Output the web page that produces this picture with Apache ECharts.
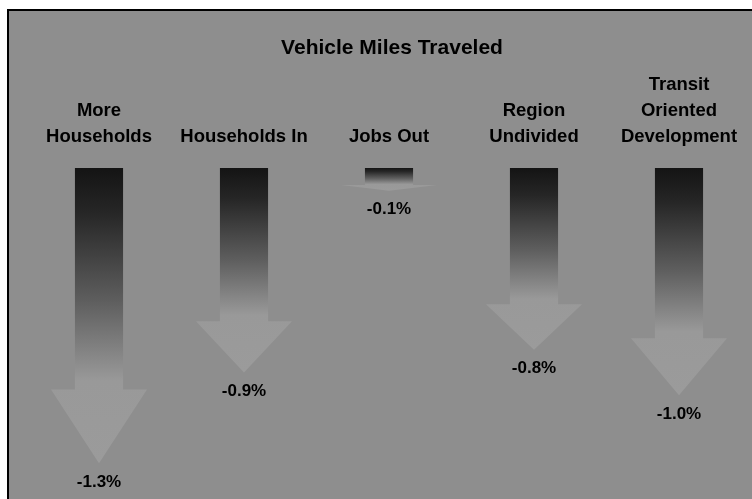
<!DOCTYPE html>
<html>
<head>
<meta charset="utf-8">
<script src="https://cdn.jsdelivr.net/npm/echarts@6/dist/echarts.min.js"></script>
<style>
html,body{margin:0;padding:0;background:#fff;}
#chart{width:752px;height:499px;}
</style>
</head>
<body>
<div id="chart"></div>
<script>
const titleText = 'Vehicle Miles Traveled';
const categories = ['More\nHouseholds', 'Households In', 'Jobs Out', 'Region\nUndivided', 'Transit\nOriented\nDevelopment'];
const values = [-1.3, -0.9, -0.1, -0.8, -1.0];

const chart = echarts.init(document.getElementById('chart'), null, {renderer: 'canvas'});
const FONT = '"Liberation Sans", Arial, sans-serif';
const BG = '#8e8e8e';

function renderArrow(params, api) {
  const x = api.value(0);
  const v = api.value(1);
  const top = api.coord([x, 0]);
  const tip = api.coord([x, v]);
  const band = api.size([1, 0])[0];
  const cx = top[0];
  const sw = band * 0.166;
  const hw = band * 0.331;
  const len = tip[1] - top[1];
  const hs = tip[1] - len * 0.25;
  return {
    type: 'group',
    children: [
      {
        type: 'polygon',
        shape: {points: [[cx - sw, top[1]], [cx + sw, top[1]], [cx + sw, hs], [cx + hw, hs], [cx, tip[1]], [cx - hw, hs], [cx - sw, hs]]},
        style: {
          fill: new echarts.graphic.LinearGradient(0, 0, 0, 1, [
            {offset: 0, color: '#141414'},
            {offset: 0.15, color: '#262626'},
            {offset: 0.45, color: '#5e5e5e'},
            {offset: 0.72, color: '#999999'},
            {offset: 1, color: '#9b9b9b'}
          ])
        }
      },
      {
        type: 'text',
        x: cx,
        y: tip[1] + 19,
        style: {
          text: v.toFixed(1) + '%',
          fill: '#000',
          font: 'bold 17px ' + FONT,
          align: 'center',
          verticalAlign: 'middle'
        }
      }
    ]
  };
}

chart.setOption({
  backgroundColor: 'transparent',
  animation: false,
  graphic: [{
    type: 'rect',
    z: -10,
    shape: {x: 8, y: 10, width: 780, height: 520},
    style: {fill: BG, stroke: '#000', lineWidth: 2}
  }],
  title: {
    text: titleText,
    left: 387,
    textAlign: 'center',
    top: 33,
    textStyle: {fontFamily: FONT, fontWeight: 'bold', fontSize: 21, color: '#000'}
  },
  grid: {left: 26.5, right: 0.5, top: 168, bottom: 13},
  xAxis: {
    type: 'category',
    position: 'top',
    data: categories,
    axisLine: {show: false},
    axisTick: {show: false},
    splitLine: {show: false},
    axisLabel: {
      interval: 0,
      margin: 18,
      fontFamily: FONT,
      fontWeight: 'bold',
      fontSize: 18.5,
      lineHeight: 26,
      color: '#000'
    }
  },
  yAxis: {
    type: 'value',
    min: -1.4,
    max: 0,
    show: false,
    splitLine: {show: false}
  },
  series: [{
    type: 'custom',
    renderItem: renderArrow,
    data: values.map((v, i) => [i, v]),
    encode: {x: 0, y: 1},
    clip: false
  }]
});
</script>
</body>
</html>
